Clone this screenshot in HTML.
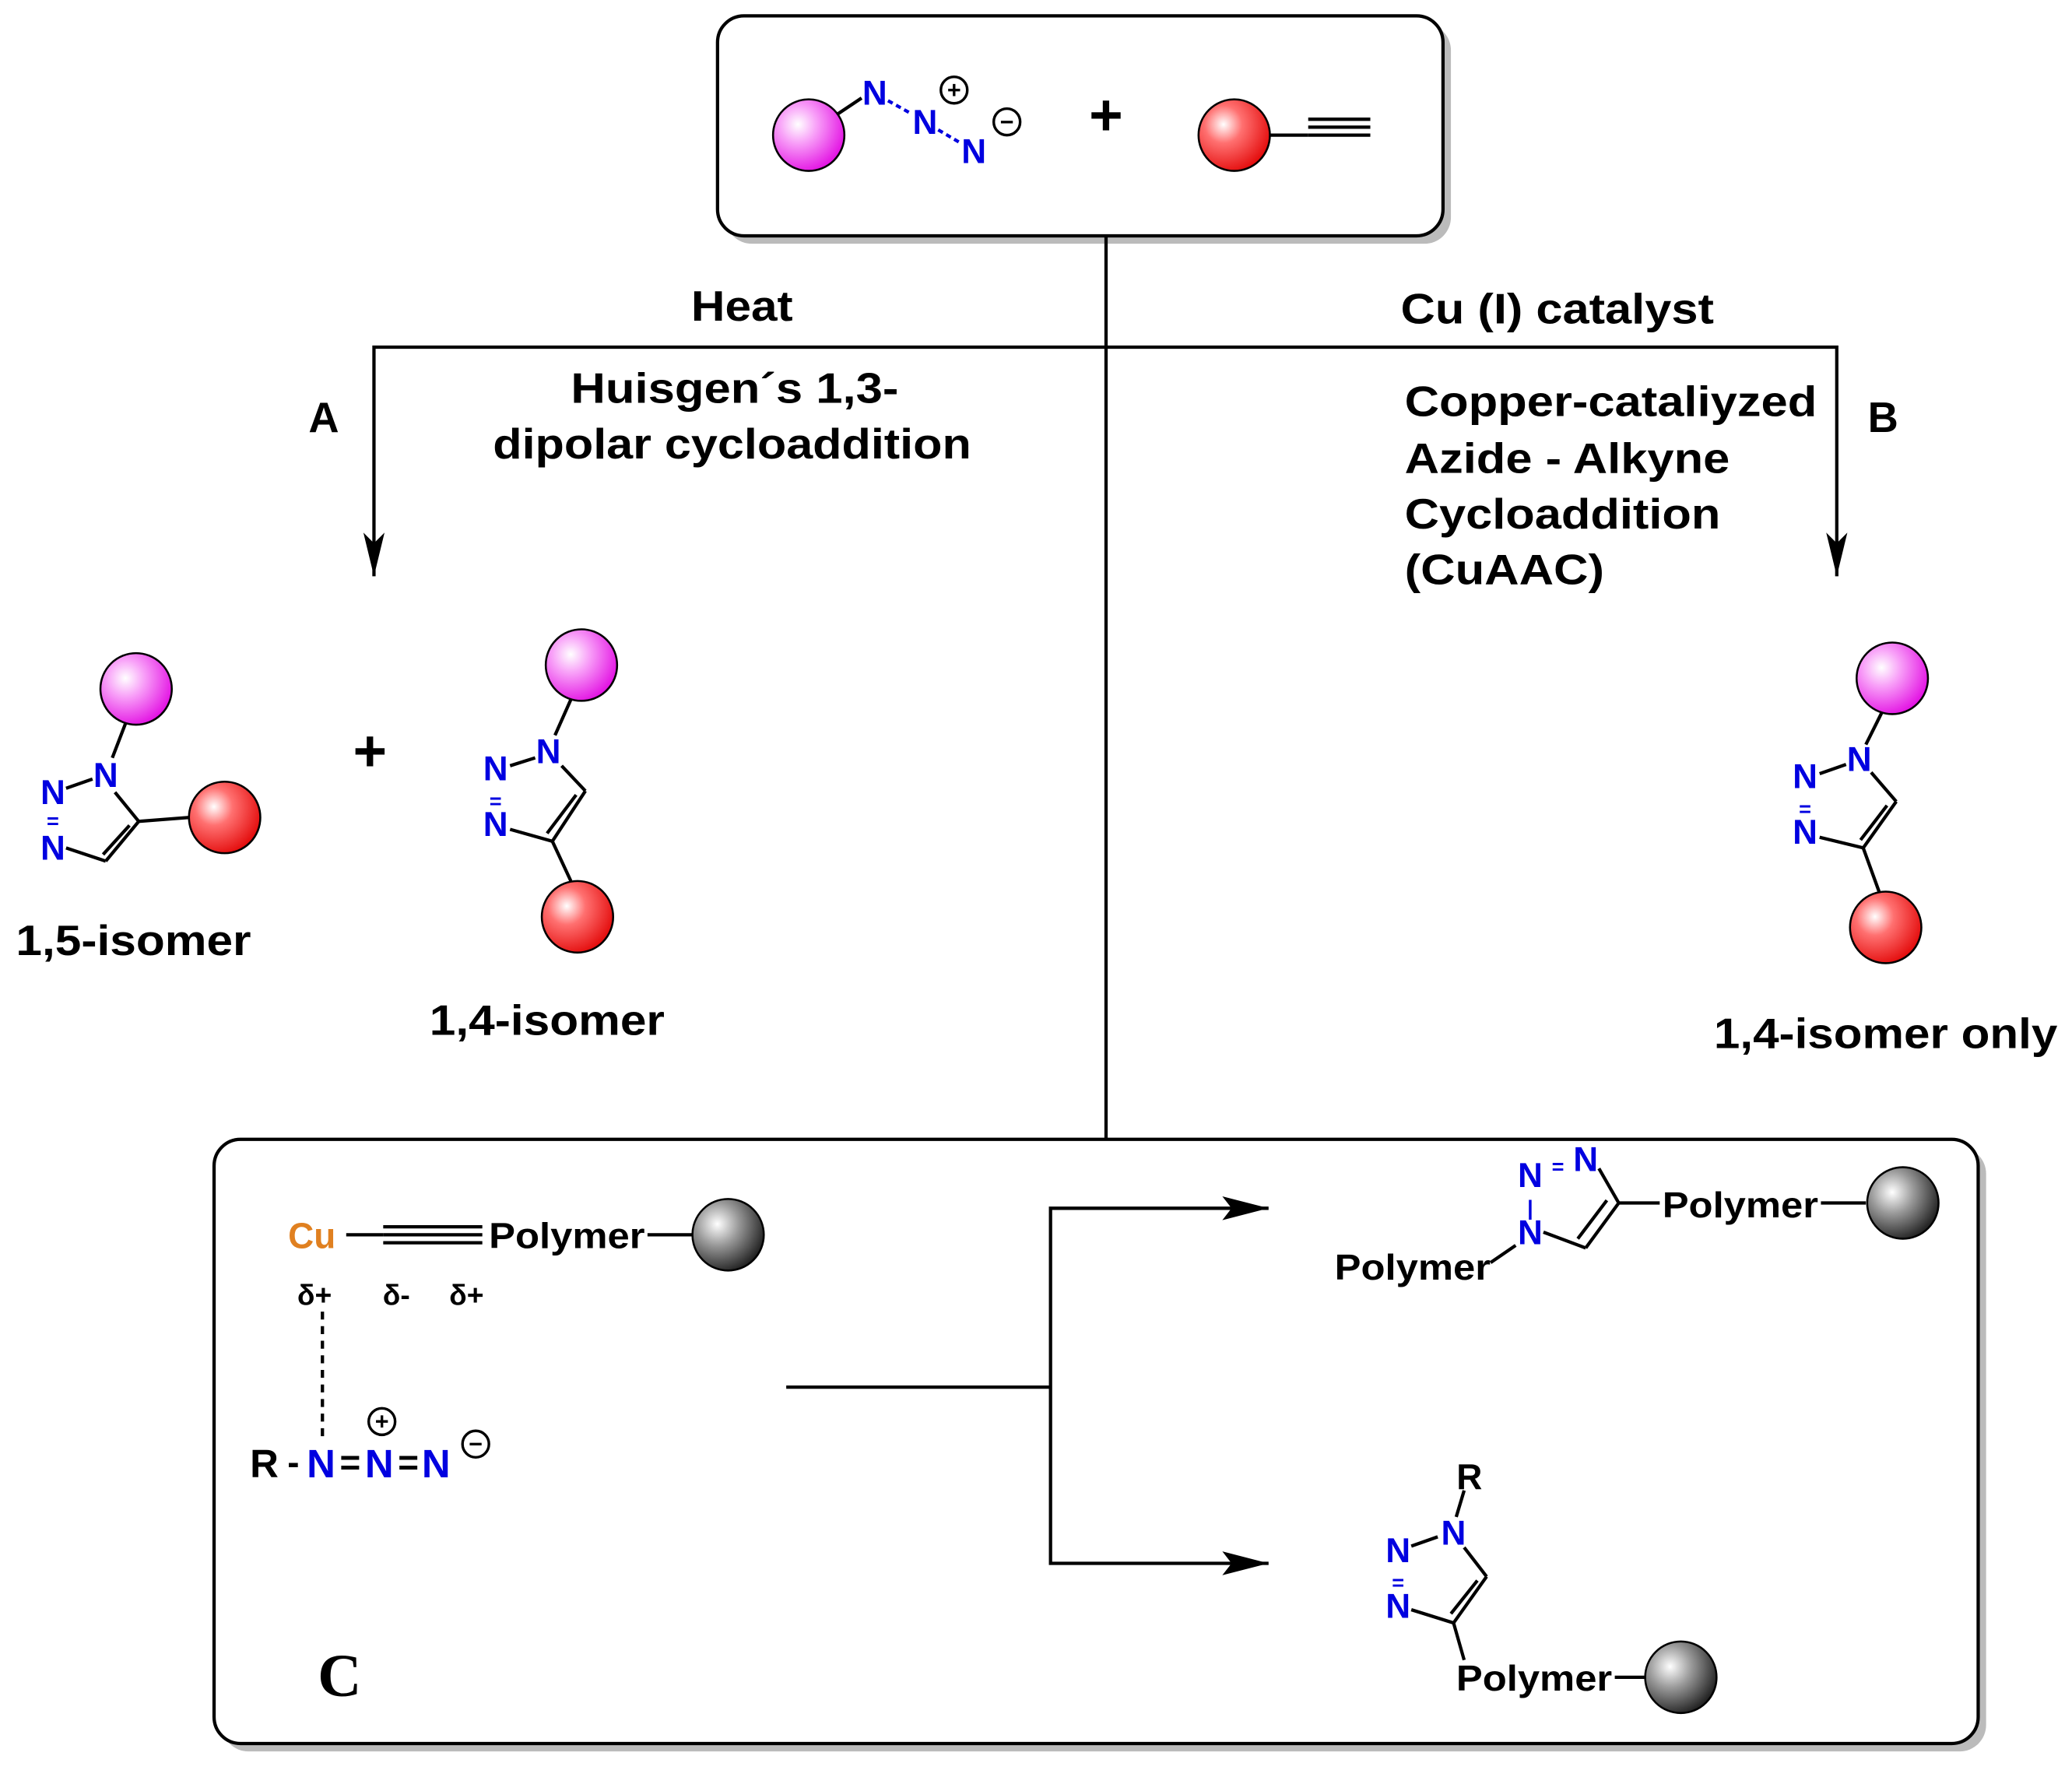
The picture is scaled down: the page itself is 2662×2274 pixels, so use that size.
<!DOCTYPE html>
<html><head><meta charset="utf-8"><style>
html,body{margin:0;padding:0;background:#fff;}
svg{display:block;}
text{font-family:"Liberation Sans",sans-serif;font-weight:bold;}
</style></head><body>
<svg width="2662" height="2274" viewBox="0 0 1568 1336" preserveAspectRatio="none" xmlns="http://www.w3.org/2000/svg">
<defs>
<radialGradient id="pk" cx="0.35" cy="0.35" r="0.75"><stop offset="0" stop-color="#fff"/><stop offset="0.35" stop-color="#f8a0f8"/><stop offset="1" stop-color="#e000e0"/></radialGradient>
<radialGradient id="rd" cx="0.35" cy="0.35" r="0.75"><stop offset="0" stop-color="#fff"/><stop offset="0.35" stop-color="#ff7070"/><stop offset="1" stop-color="#e00000"/></radialGradient>
<radialGradient id="gy" cx="0.35" cy="0.35" r="0.75"><stop offset="0" stop-color="#fff"/><stop offset="0.4" stop-color="#999"/><stop offset="1" stop-color="#111"/></radialGradient>
</defs>
<g stroke="#000" stroke-width="2.5" fill="none">
<rect x="549" y="18" width="549" height="166" rx="20" fill="#bbb" stroke="none"/>
<rect x="543" y="12" width="549" height="166" rx="20" fill="#fff"/>
<rect x="168" y="866" width="1335" height="456" rx="20" fill="#bbb" stroke="none"/>
<rect x="162" y="860" width="1335" height="456" rx="20" fill="#fff"/>
<line x1="837" y1="178" x2="837" y2="860"/>
<polyline points="283,435 283,262 1390,262 1390,435"/>
<path d="M275,402 L283,435 L291,402 L283,410z" fill="#000" stroke="none"/>
<path d="M1382,402 L1390,435 L1398,402 L1390,410z" fill="#000" stroke="none"/>
<line x1="595" y1="1047" x2="795" y2="1047"/>
<polyline points="960,912 795,912 795,1180 960,1180"/>
<path d="M925,903 L960,912 L925,921 L932,912z" fill="#000" stroke="none"/>
<path d="M925,1171 L960,1180 L925,1189 L932,1180z" fill="#000" stroke="none"/>
<line x1="628" y1="90" x2="652" y2="74"/>
<line x1="672" y1="76" x2="690" y2="86" stroke="#0000e0" stroke-dasharray="4,3"/>
<line x1="710" y1="98" x2="727" y2="108" stroke="#0000e0" stroke-dasharray="4,3"/>
<line x1="960" y1="102" x2="990" y2="102"/>
<line x1="990" y1="90" x2="1037" y2="90"/><line x1="990" y1="96" x2="1037" y2="96"/><line x1="990" y1="102" x2="1037" y2="102"/>
<line x1="95" y1="546" x2="85" y2="572"/>
<line x1="50" y1="595" x2="70" y2="588"/>
<line x1="87" y1="598" x2="105" y2="620"/><line x1="105" y1="620" x2="80" y2="650"/><line x1="98" y1="623" x2="78" y2="645"/>
<line x1="80" y1="650" x2="50" y2="640"/>
<line x1="105" y1="620" x2="143" y2="617"/>
<line x1="432" y1="528" x2="420" y2="555"/>
<line x1="386" y1="578" x2="405" y2="572"/>
<line x1="425" y1="578" x2="443" y2="597"/><line x1="443" y1="597" x2="418" y2="635"/><line x1="436" y1="600" x2="414" y2="629"/>
<line x1="418" y1="635" x2="386" y2="626"/>
<line x1="418" y1="635" x2="432" y2="665"/>
<line x1="1424" y1="538" x2="1412" y2="562"/>
<line x1="1377" y1="584" x2="1397" y2="577"/>
<line x1="1416" y1="583" x2="1435" y2="605"/><line x1="1435" y1="605" x2="1410" y2="640"/><line x1="1428" y1="608" x2="1408" y2="634"/>
<line x1="1410" y1="640" x2="1377" y2="632"/>
<line x1="1410" y1="640" x2="1422" y2="673"/>
<line x1="262" y1="932" x2="290" y2="932"/>
<line x1="290" y1="926" x2="365" y2="926"/><line x1="290" y1="932" x2="365" y2="932"/><line x1="290" y1="938" x2="365" y2="938"/>
<line x1="490" y1="932" x2="524" y2="932"/>
<line x1="244" y1="990" x2="244" y2="1085" stroke-dasharray="6,5"/>
<line x1="1128" y1="953" x2="1147" y2="940"/>
<line x1="1168" y1="930" x2="1200" y2="942"/><line x1="1200" y1="942" x2="1225" y2="908"/><line x1="1194" y1="935" x2="1216" y2="906"/>
<line x1="1225" y1="908" x2="1210" y2="882"/>
<line x1="1225" y1="908" x2="1256" y2="908"/>
<line x1="1378" y1="908" x2="1412" y2="908"/>
<line x1="1108" y1="1125" x2="1102" y2="1145"/>
<line x1="1068" y1="1167" x2="1088" y2="1160"/>
<line x1="1108" y1="1168" x2="1125" y2="1190"/><line x1="1125" y1="1190" x2="1100" y2="1225"/><line x1="1118" y1="1193" x2="1098" y2="1218"/>
<line x1="1100" y1="1225" x2="1068" y2="1215"/>
<line x1="1100" y1="1225" x2="1108" y2="1253"/>
<line x1="1222" y1="1266" x2="1245" y2="1266"/>
</g>
<g stroke="#000" stroke-width="1.5">
<circle cx="612" cy="102" r="27" fill="url(#pk)"/>
<circle cx="934" cy="102" r="27" fill="url(#rd)"/>
<circle cx="103" cy="520" r="27" fill="url(#pk)"/>
<circle cx="170" cy="617" r="27" fill="url(#rd)"/>
<circle cx="440" cy="502" r="27" fill="url(#pk)"/>
<circle cx="437" cy="692" r="27" fill="url(#rd)"/>
<circle cx="1432" cy="512" r="27" fill="url(#pk)"/>
<circle cx="1427" cy="700" r="27" fill="url(#rd)"/>
<circle cx="551" cy="932" r="27" fill="url(#gy)"/>
<circle cx="1440" cy="908" r="27" fill="url(#gy)"/>
<circle cx="1272" cy="1266" r="27" fill="url(#gy)"/>
</g>
<g font-size="26" fill="#0000e0" text-anchor="middle">
<text x="662" y="79">N</text><text x="700" y="101">N</text><text x="737" y="123">N</text>
<text x="80" y="594">N</text><text x="40" y="607">N</text><text x="40" y="649">N</text>
<text x="415" y="576">N</text><text x="375" y="589">N</text><text x="375" y="631">N</text>
<text x="1407" y="582">N</text><text x="1366" y="595">N</text><text x="1366" y="637">N</text>
<text x="1158" y="939">N</text><text x="1158" y="896">N</text><text x="1200" y="884">N</text>
<text x="1100" y="1166">N</text><text x="1058" y="1179">N</text><text x="1058" y="1221">N</text>
</g>
<g fill="#0000e0" font-size="16" text-anchor="middle"><text x="40" y="625">=</text><text x="375" y="610">=</text><text x="1366" y="616">=</text><text x="1058" y="1200">=</text><text x="1158" y="917">|</text><text x="1179" y="886">=</text></g>
<g fill="none" stroke="#000" stroke-width="2"><circle cx="722" cy="68" r="10"/><circle cx="762" cy="92" r="10"/><circle cx="289" cy="1073" r="10"/><circle cx="360" cy="1090" r="10"/></g>
<g font-size="18" text-anchor="middle" fill="#000"><text x="722" y="74">+</text><text x="762" y="98">−</text><text x="289" y="1079">+</text><text x="360" y="1096">−</text></g>
<g font-size="32" fill="#000" lengthAdjust="spacingAndGlyphs">
<text x="837" y="102" font-size="44" text-anchor="middle">+</text>
<text x="280" y="582" font-size="44" text-anchor="middle">+</text>
<text x="523" y="242" textLength="77" lengthAdjust="spacingAndGlyphs">Heat</text>
<text x="1060" y="244" textLength="237" lengthAdjust="spacingAndGlyphs">Cu (I) catalyst</text>
<text x="245" y="326" text-anchor="middle">A</text>
<text x="1425" y="326" text-anchor="middle">B</text>
<text x="432" y="304" textLength="248" lengthAdjust="spacingAndGlyphs">Huisgen´s 1,3-</text>
<text x="373" y="346" textLength="362" lengthAdjust="spacingAndGlyphs">dipolar cycloaddition</text>
<text x="1063" y="314" textLength="312" lengthAdjust="spacingAndGlyphs">Copper-cataliyzed</text>
<text x="1063" y="357" textLength="246" lengthAdjust="spacingAndGlyphs">Azide - Alkyne</text>
<text x="1063" y="399" textLength="239" lengthAdjust="spacingAndGlyphs">Cycloaddition</text>
<text x="1063" y="441" textLength="151" lengthAdjust="spacingAndGlyphs">(CuAAC)</text>
<text x="12" y="721" textLength="178" lengthAdjust="spacingAndGlyphs">1,5-isomer</text>
<text x="325" y="781" textLength="178" lengthAdjust="spacingAndGlyphs">1,4-isomer</text>
<text x="1297" y="791" textLength="260" lengthAdjust="spacingAndGlyphs">1,4-isomer only</text>
</g>
<g font-size="27" fill="#000">
<text x="236" y="942" text-anchor="middle" fill="#e08020">Cu</text>
<text x="370" y="942" textLength="118" lengthAdjust="spacingAndGlyphs">Polymer</text>
<text x="238" y="985" text-anchor="middle" font-size="22">δ+</text>
<text x="300" y="985" text-anchor="middle" font-size="22">δ-</text>
<text x="353" y="985" text-anchor="middle" font-size="22">δ+</text>
<text x="200" y="1115" text-anchor="middle" font-size="30">R</text>
<text x="222" y="1113" text-anchor="middle">-</text>
<text x="243" y="1115" text-anchor="middle" font-size="30" fill="#0000e0">N</text>
<text x="265" y="1113" text-anchor="middle">=</text>
<text x="287" y="1115" text-anchor="middle" font-size="30" fill="#0000e0">N</text>
<text x="309" y="1113" text-anchor="middle">=</text>
<text x="330" y="1115" text-anchor="middle" font-size="30" fill="#0000e0">N</text>
<text x="1010" y="966" textLength="118" lengthAdjust="spacingAndGlyphs">Polymer</text>
<text x="1258" y="919" textLength="118" lengthAdjust="spacingAndGlyphs">Polymer</text>
<text x="1112" y="1124" text-anchor="middle">R</text>
<text x="1102" y="1276" textLength="118" lengthAdjust="spacingAndGlyphs">Polymer</text>
</g>
<text x="257" y="1280" style="font-family:'Liberation Serif',serif;font-size:46px;font-weight:bold" text-anchor="middle" fill="#000">C</text>
</svg>
</body></html>
